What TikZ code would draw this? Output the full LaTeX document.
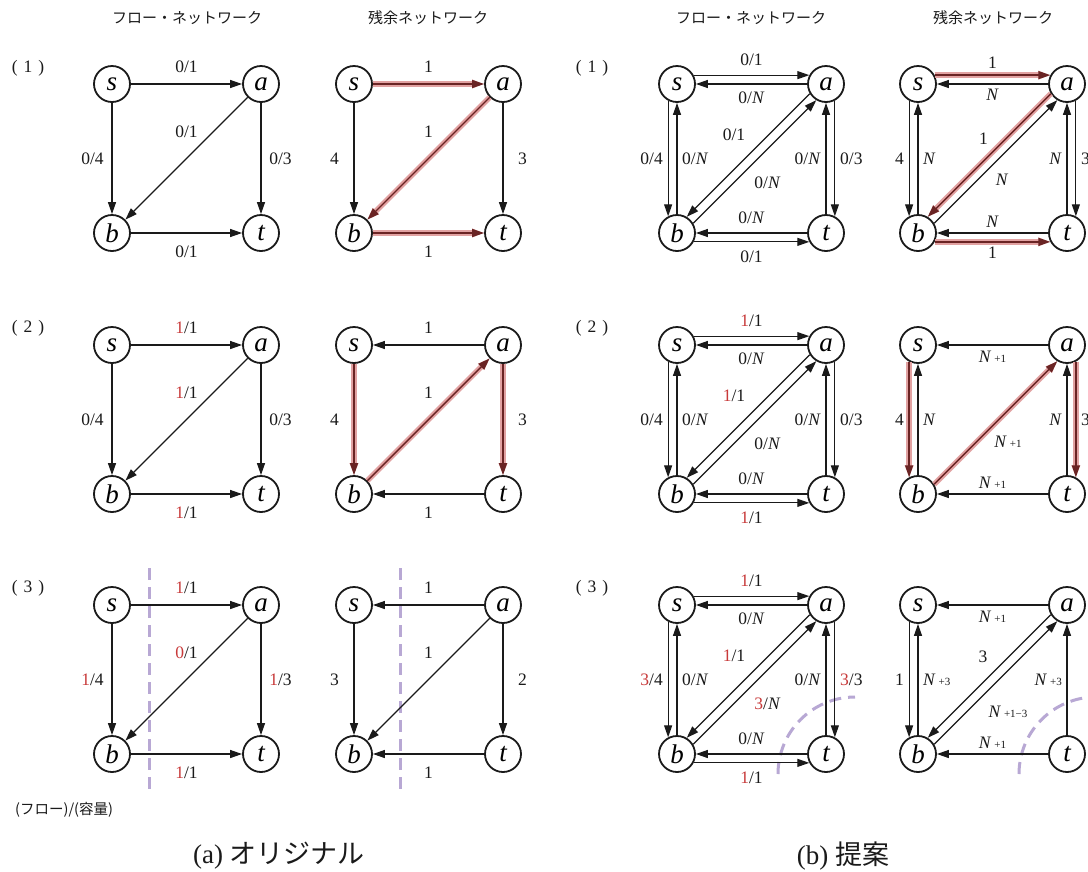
\documentclass[tikz,border=0pt]{standalone}
\usepackage{fontspec}
\setmainfont{Liberation Serif}
\newfontfamily\jpfont{Noto Sans CJK JP}
\usetikzlibrary{arrows.meta}

\definecolor{ink}{HTML}{1A1A1A}
\definecolor{flowred}{HTML}{C83A3A}
\definecolor{pathdark}{HTML}{6A2424}
\definecolor{pathglow}{HTML}{E2A2A2}
\definecolor{cutcolor}{HTML}{B8A8D4}

\newcommand\rdnum[1]{\textcolor{flowred}{#1}}
\newcommand\Nit{\textit{N}}
\newcommand\Nplus[1]{\textit{N}\,{\fontsize{11}{11}\selectfont #1}}

\tikzset{
  vtx/.style={circle, draw=ink, fill=white, line width=1.8pt, minimum size=36pt,
    inner sep=0pt, font=\fontsize{27}{27}\selectfont\itshape},
  fedge/.style={draw=ink, line width=1.2pt, -{Triangle[length=12pt,width=8pt]}},
  hl/.style={draw=pathdark, line width=1.4pt, -{Triangle[length=12pt,width=8pt]},
    preaction={draw=pathglow, line width=5.5pt}},
  lbl/.style={font=\fontsize{17.5}{17.5}\selectfont, text=ink, inner sep=0pt},
  cutmark/.style={draw=cutcolor, line width=3pt, dash pattern=on 12pt off 7pt},
  head/.style={font=\jpfont\fontsize{15}{15}\selectfont, text=ink, inner sep=0pt},
  rowlbl/.style={font=\fontsize{17.5}{17.5}\selectfont, text=ink, inner sep=0pt},
}

% four vertices s, a, b, t of one network
\newcommand\quadnodes[3]{%
  \node[vtx] (#1s) at (#2,#3) {s};
  \node[vtx] (#1a) at (#2+149,#3) {a};
  \node[vtx] (#1b) at (#2,#3+149) {b};
  \node[vtx] (#1t) at (#2+149,#3+149) {t};}

% edge labels of the original networks: top, diagonal, left, right, bottom
\newcommand\alabels[6]{%
  \node[lbl] (#1Ltop) at ([shift={(74.5,-17)}]#1s.center) {#2};
  \node[lbl] (#1Ldg) at ([shift={(74.5,47.5)}]#1s.center) {#3};
  \node[lbl] (#1Llt) at ([shift={(-19.5,74.5)}]#1s.center) {#4};
  \node[lbl] (#1Lrt) at ([shift={(168.5,74.5)}]#1s.center) {#5};
  \node[lbl] (#1Lbt) at ([shift={(74.5,168)}]#1s.center) {#6};}

% horizontal labels of the paired networks
\newcommand\bflowh[5]{%
  \node[lbl] (#1Ltop) at ([shift={(74.5,-24)}]#1s.center) {#2};
  \node[lbl] (#1Lund) at ([shift={(74.5,14)}]#1s.center) {#3};
  \node[lbl] (#1Lbta) at ([shift={(74.5,-15)}]#1b.center) {#4};
  \node[lbl] (#1Lbtb) at ([shift={(74.5,24)}]#1b.center) {#5};}

% vertical and diagonal labels of the paired networks
\newcommand\bflowv[7]{%
  \node[lbl,anchor=east] (#1Llo) at ([shift={(-14,74.5)}]#1s.center) {#2};
  \node[lbl,anchor=west] (#1Lli) at ([shift={(5,74.5)}]#1s.center) {#3};
  \node[lbl,anchor=east] (#1Lri) at ([shift={(-5,74.5)}]#1a.center) {#4};
  \node[lbl,anchor=west] (#1Lro) at ([shift={(14,74.5)}]#1a.center) {#5};
  \node[lbl] (#1Ldu) at ([shift={(57,51)}]#1s.center) {#6};
  \node[lbl] (#1Ldl) at ([shift={(90.5,99)}]#1s.center) {#7};}

% forward edges of an original network
\newcommand\aforward[1]{%
  \draw[fedge] (#1s) -- (#1a);
  \draw[fedge] (#1s) -- (#1b);
  \draw[fedge] (#1a) -- (#1b);
  \draw[fedge] (#1a) -- (#1t);
  \draw[fedge] (#1b) -- (#1t);}

% all ten edges of a paired network
\newcommand\bpairs[1]{%
  \draw[fedge] (#1s.28) -- (#1a.152);
  \draw[fedge] (#1a) -- (#1s);
  \draw[fedge] (#1s.242) -- (#1b.118);
  \draw[fedge] (#1b) -- (#1s);
  \draw[fedge] (#1a.211) -- (#1b.59);
  \draw[fedge] (#1b.31) -- (#1a.239);
  \draw[fedge] (#1a.298) -- (#1t.62);
  \draw[fedge] (#1t) -- (#1a);
  \draw[fedge] (#1b.332) -- (#1t.208);
  \draw[fedge] (#1t) -- (#1b);}

\begin{document}
\begin{tikzpicture}[x=1pt,y=-1pt]
\fill[white] (0,0) rectangle (1088,871);
\useasboundingbox (0,0) rectangle (1088,871);

% column headings
\node[head] (h1) at (187,18) {フロー・ネットワーク};
\node[head] (h2) at (428,18) {残余ネットワーク};
\node[head] (h3) at (751,18) {フロー・ネットワーク};
\node[head] (h4) at (993,18) {残余ネットワーク};

% step numbers
\node[rowlbl] (n1a) at (28,68) {(\hspace{6pt}1\hspace{6pt})};
\node[rowlbl] (n2a) at (28,328) {(\hspace{6pt}2\hspace{6pt})};
\node[rowlbl] (n3a) at (28,588) {(\hspace{6pt}3\hspace{6pt})};
\node[rowlbl] (n1b) at (592,68) {(\hspace{6pt}1\hspace{6pt})};
\node[rowlbl] (n2b) at (592,328) {(\hspace{6pt}2\hspace{6pt})};
\node[rowlbl] (n3b) at (592,588) {(\hspace{6pt}3\hspace{6pt})};

% cut lines (drawn below the graphs)
\draw[cutmark] (149,568) -- (149,790);
\draw[cutmark] (400,568) -- (400,790);

% ---------------- (a) original ----------------
\quadnodes{fa1}{112}{84}
\quadnodes{fa2}{112}{345}
\quadnodes{fa3}{112}{605}
\quadnodes{ra1}{354}{84}
\quadnodes{ra2}{354}{345}
\quadnodes{ra3}{354}{605}

\aforward{fa1}
\aforward{fa2}
\aforward{fa3}
\alabels{fa1}{0/1}{0/1}{0/4}{0/3}{0/1}
\alabels{fa2}{\rdnum{1}/1}{\rdnum{1}/1}{0/4}{0/3}{\rdnum{1}/1}
\alabels{fa3}{\rdnum{1}/1}{\rdnum{0}/1}{\rdnum{1}/4}{\rdnum{1}/3}{\rdnum{1}/1}

% residual, step 1
\draw[hl] (ra1s) -- (ra1a);
\draw[fedge] (ra1s) -- (ra1b);
\draw[hl] (ra1a) -- (ra1b);
\draw[fedge] (ra1a) -- (ra1t);
\draw[hl] (ra1b) -- (ra1t);
\alabels{ra1}{1}{1}{4}{3}{1}
% residual, step 2
\draw[fedge] (ra2a) -- (ra2s);
\draw[hl] (ra2s) -- (ra2b);
\draw[hl] (ra2b) -- (ra2a);
\draw[hl] (ra2a) -- (ra2t);
\draw[fedge] (ra2t) -- (ra2b);
\alabels{ra2}{1}{1}{4}{3}{1}
% residual, step 3
\draw[fedge] (ra3a) -- (ra3s);
\draw[fedge] (ra3s) -- (ra3b);
\draw[fedge] (ra3a) -- (ra3b);
\draw[fedge] (ra3a) -- (ra3t);
\draw[fedge] (ra3t) -- (ra3b);
\alabels{ra3}{1}{1}{3}{2}{1}

\node[font=\jpfont\fontsize{14.5}{14.5}\selectfont, text=ink, anchor=west, inner sep=0pt]
  (unit) at (15,810) {(フロー)/(容量)};

% ---------------- (b) proposed ----------------
\quadnodes{fb1}{677}{84}
\quadnodes{fb2}{677}{345}
\quadnodes{fb3}{677}{605}
\quadnodes{rb1}{918}{84}
\quadnodes{rb2}{918}{345}
\quadnodes{rb3}{918}{605}

% cut arcs around t in step 3
\draw[cutmark] ([shift={(-48,20)}]fb3t.center) arc[start angle=180, end angle=90, radius=77pt];
\draw[cutmark] ([shift={(-48,20)}]rb3t.center) arc[start angle=180, end angle=90, radius=77pt];

\bpairs{fb1}
\bpairs{fb2}
\bpairs{fb3}
\bflowh{fb1}{0/1}{0/\Nit}{0/\Nit}{0/1}
\bflowv{fb1}{0/4}{0/\Nit}{0/\Nit}{0/3}{0/1}{0/\Nit}
\bflowh{fb2}{\rdnum{1}/1}{0/\Nit}{0/\Nit}{\rdnum{1}/1}
\bflowv{fb2}{0/4}{0/\Nit}{0/\Nit}{0/3}{\rdnum{1}/1}{0/\Nit}
\bflowh{fb3}{\rdnum{1}/1}{0/\Nit}{0/\Nit}{\rdnum{1}/1}
\bflowv{fb3}{\rdnum{3}/4}{0/\Nit}{0/\Nit}{\rdnum{3}/3}{\rdnum{1}/1}{\rdnum{3}/\Nit}

% residual, step 1
\draw[hl] (rb1s.28) -- (rb1a.152);
\draw[fedge] (rb1a) -- (rb1s);
\draw[fedge] (rb1s.242) -- (rb1b.118);
\draw[fedge] (rb1b) -- (rb1s);
\draw[hl] (rb1a.211) -- (rb1b.59);
\draw[fedge] (rb1b.31) -- (rb1a.239);
\draw[fedge] (rb1a.298) -- (rb1t.62);
\draw[fedge] (rb1t) -- (rb1a);
\draw[fedge] (rb1t) -- (rb1b);
\draw[hl] (rb1b.332) -- (rb1t.208);
\node[lbl] (rb1Ltop) at ([shift={(74.5,-21)}]rb1s.center) {1};
\node[lbl] (rb1Lund) at ([shift={(74.5,11)}]rb1s.center) {\Nit};
\node[lbl,anchor=east] (rb1Llo) at ([shift={(-14,74.5)}]rb1s.center) {4};
\node[lbl,anchor=west] (rb1Lli) at ([shift={(5,74.5)}]rb1s.center) {\Nit};
\node[lbl,anchor=east] (rb1Lri) at ([shift={(-5,74.5)}]rb1a.center) {\Nit};
\node[lbl,anchor=west] (rb1Lro) at ([shift={(14,74.5)}]rb1a.center) {3};
\node[lbl] (rb1Ldu) at ([shift={(65.5,54.5)}]rb1s.center) {1};
\node[lbl] (rb1Ldl) at ([shift={(84,96)}]rb1s.center) {\Nit};
\node[lbl] (rb1Lbta) at ([shift={(74.5,-11)}]rb1b.center) {\Nit};
\node[lbl] (rb1Lbtb) at ([shift={(74.5,20)}]rb1b.center) {1};

% residual, step 2
\draw[fedge] (rb2a) -- (rb2s);
\draw[hl] (rb2s.242) -- (rb2b.118);
\draw[fedge] (rb2b) -- (rb2s);
\draw[hl] (rb2b.31) -- (rb2a.239);
\draw[fedge] (rb2t) -- (rb2a);
\draw[hl] (rb2a.298) -- (rb2t.62);
\draw[fedge] (rb2t) -- (rb2b);
\node[lbl] (rb2Lund) at ([shift={(74.5,12)}]rb2s.center) {\Nplus{+1}};
\node[lbl,anchor=east] (rb2Llo) at ([shift={(-14,74.5)}]rb2s.center) {4};
\node[lbl,anchor=west] (rb2Lli) at ([shift={(5,74.5)}]rb2s.center) {\Nit};
\node[lbl,anchor=east] (rb2Lri) at ([shift={(-5,74.5)}]rb2a.center) {\Nit};
\node[lbl,anchor=west] (rb2Lro) at ([shift={(14,74.5)}]rb2a.center) {3};
\node[lbl] (rb2Ldl) at ([shift={(90,97)}]rb2s.center) {\Nplus{+1}};
\node[lbl] (rb2Lbta) at ([shift={(74.5,-11)}]rb2b.center) {\Nplus{+1}};

% residual, step 3
\draw[fedge] (rb3a) -- (rb3s);
\draw[fedge] (rb3s.242) -- (rb3b.118);
\draw[fedge] (rb3b) -- (rb3s);
\draw[fedge] (rb3a.211) -- (rb3b.59);
\draw[fedge] (rb3b.31) -- (rb3a.239);
\draw[fedge] (rb3t) -- (rb3a);
\draw[fedge] (rb3t) -- (rb3b);
\node[lbl] (rb3Lund) at ([shift={(74.5,12)}]rb3s.center) {\Nplus{+1}};
\node[lbl,anchor=east] (rb3Llo) at ([shift={(-14,74.5)}]rb3s.center) {1};
\node[lbl,anchor=west] (rb3Lli) at ([shift={(5,74.5)}]rb3s.center) {\Nplus{+3}};
\node[lbl,anchor=east] (rb3Lri) at ([shift={(-5,74.5)}]rb3a.center) {\Nplus{+3}};
\node[lbl] (rb3Ldu) at ([shift={(65,52)}]rb3s.center) {3};
\node[lbl] (rb3Ldl) at ([shift={(90,106.5)}]rb3s.center) {\Nplus{+1−3}};
\node[lbl] (rb3Lbta) at ([shift={(74.5,-11)}]rb3b.center) {\Nplus{+1}};

% captions
\node[font=\fontsize{27}{27}\selectfont, text=ink, inner sep=0pt] (capa) at (279,856)
  {(a) {\jpfont オリジナル}};
\node[font=\fontsize{27}{27}\selectfont, text=ink, inner sep=0pt] (capb) at (843,856)
  {(b) {\jpfont 提案}};
\end{tikzpicture}
\end{document}
